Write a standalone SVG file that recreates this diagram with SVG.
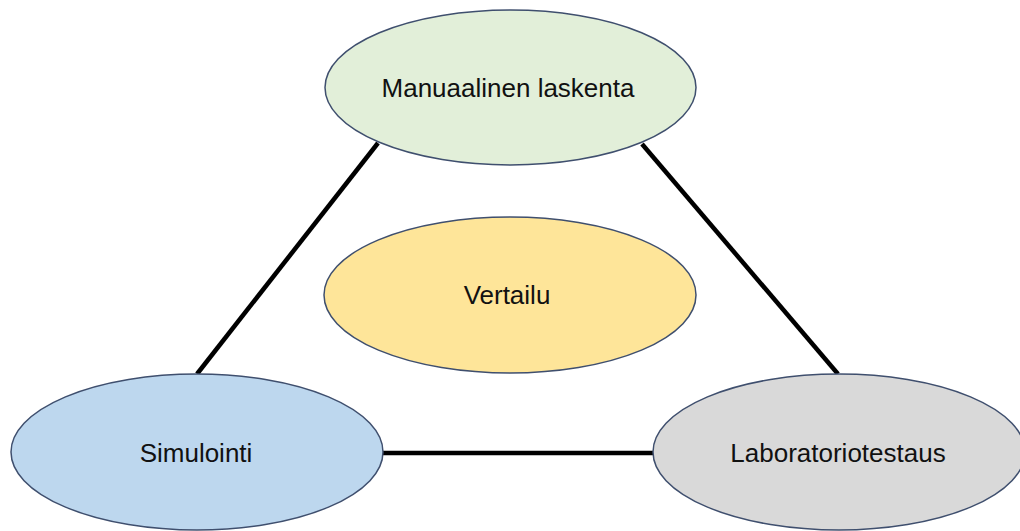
<svg xmlns="http://www.w3.org/2000/svg" width="1020" height="531" viewBox="0 0 1020 531">
<style>
.n{stroke:#3f4f6e;stroke-width:1.5}
.t{font-family:"Liberation Sans",Arial,sans-serif;font-size:26px;fill:#111;text-anchor:middle}
.c{stroke:#000;stroke-width:4.5;fill:none}
</style>
<rect width="1020" height="531" fill="#fff"/>
<g id="connectors">
<line class="c" x1="378" y1="143" x2="197" y2="374"/>
<line class="c" x1="642" y1="144" x2="838" y2="374"/>
<line class="c" x1="383" y1="453" x2="653" y2="453"/>
</g>
<g id="manuaalinen">
<ellipse class="n" cx="510.5" cy="87.5" rx="185.5" ry="77.5" fill="#e2efd9"/>
<text class="t" x="508" y="97">Manuaalinen laskenta</text>
</g>
<g id="vertailu">
<ellipse class="n" cx="510" cy="295" rx="186" ry="78" fill="#fee599"/>
<text class="t" x="507" y="304">Vertailu</text>
</g>
<g id="simulointi">
<ellipse class="n" cx="197" cy="452" rx="186" ry="78" fill="#bdd7ee"/>
<text class="t" x="196" y="462">Simulointi</text>
</g>
<g id="laboratoriotestaus">
<ellipse class="n" cx="839" cy="452" rx="186" ry="78" fill="#d9d9d9"/>
<text class="t" x="838" y="462">Laboratoriotestaus</text>
</g>
</svg>
